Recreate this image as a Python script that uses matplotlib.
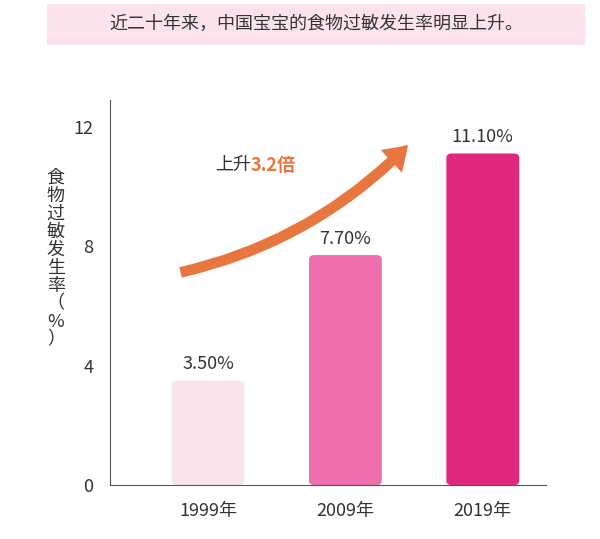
import matplotlib
matplotlib.use("Agg")
import matplotlib.pyplot as plt
from matplotlib import font_manager as fm
from matplotlib.patches import FancyArrowPatch, FancyBboxPatch

# make sure a CJK font is registered
for f in fm.findSystemFonts():
    if "CJK" in f or "cjk" in f.lower():
        try:
            fm.fontManager.addfont(f)
        except Exception:
            pass
names = {f.name for f in fm.fontManager.ttflist}
cjk = [n for n in ["Noto Sans CJK SC", "Noto Sans CJK JP", "Noto Sans CJK TC",
                   "Noto Sans CJK KR"] if n in names]
plt.rcParams["font.family"] = cjk + ["DejaVu Sans"]

years = ["1999年", "2009年", "2019年"]
rates = [3.5, 7.7, 11.1]
rate_labels = ["3.50%", "7.70%", "11.10%"]
colors = ["#F9E4EE", "#EE6FAB", "#E0287F"]
yticks = [0, 4, 8, 12]

fig = plt.figure(figsize=(6.0, 5.39), dpi=100)
ax = fig.add_axes([0.183, 0.1, 0.727, 0.715])
ax.set_xlim(-0.715, 2.46)
ax.set_ylim(0, 12.9)

w = 0.53
for i, (v, c) in enumerate(zip(rates, colors)):
    ax.add_patch(FancyBboxPatch((i - w / 2, 0), w, v,
                                boxstyle="round,pad=0,rounding_size=0.04",
                                mutation_aspect=3.5, fc=c, ec="none"))
    ax.text(i, v + 0.25, rate_labels[i], ha="center", va="bottom",
            fontsize=13, color="#333333")

ax.set_xticks(range(3))
ax.set_xticklabels(years, fontsize=13, color="#333333")
ax.set_yticks(yticks)
ax.set_yticklabels([str(t) for t in yticks], fontsize=13, color="#333333")
ax.tick_params(length=0, pad=12)
for s in ["top", "right"]:
    ax.spines[s].set_visible(False)
for s in ["left", "bottom"]:
    ax.spines[s].set_color("#555555")

# growth arrow
arrow = FancyArrowPatch((-0.22, 7.1), (1.47, 11.45),
                        connectionstyle="arc3,rad=0.15",
                        arrowstyle="simple,head_width=1.6,head_length=1.2,tail_width=0.55",
                        mutation_scale=14, color="#E8773F", lw=0)
ax.add_patch(arrow)
ax.text(0.05, 10.7, "上升", fontsize=13, color="#333333", va="center")
ax.text(0.31, 10.7, "3.2倍", fontsize=13, color="#E8773F", va="center",
        fontweight="bold")

# vertical y label
fig.text(0.093, 0.52, "食\n物\n过\n敏\n发\n生\n率\n（\n%\n）", ha="center",
         va="center", fontsize=13, color="#333333", linespacing=1.0)

# title box
fig.patches.append(FancyBboxPatch((0.078, 0.917), 0.897, 0.075,
                                  boxstyle="square,pad=0", fc="#FBE3EE",
                                  ec="none", transform=fig.transFigure))
fig.text(0.527, 0.955, "近二十年来，中国宝宝的食物过敏发生率明显上升。",
         ha="center", va="center", fontsize=13, color="#333333")

fig.savefig("out.png", dpi=100, facecolor="white")
